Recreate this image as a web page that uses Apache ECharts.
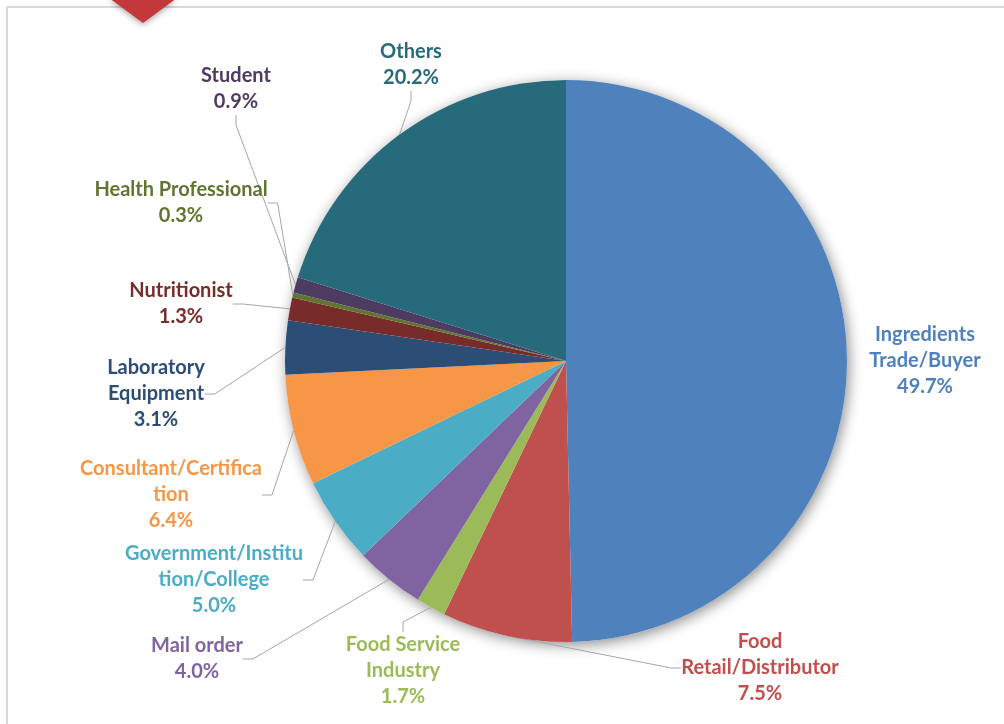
<!DOCTYPE html>
<html>
<head>
<meta charset="utf-8">
<script src="https://cdn.jsdelivr.net/npm/echarts@6/dist/echarts.min.js"></script>
<style>
html,body{margin:0;padding:0;background:#fff;}
#chart{width:1004px;height:724px;}
</style>
</head>
<body>
<div id="chart"></div>
<script>
// Categories (label text, with the original line breaks)
const categories = [
  'Ingredients\nTrade/Buyer',
  'Food\nRetail/Distributor',
  'Food Service\nIndustry',
  'Mail order',
  'Government/Institu\ntion/College',
  'Consultant/Certifica\ntion',
  'Laboratory\nEquipment',
  'Nutritionist',
  'Health Professional',
  'Student',
  'Others'
];
// Share values (%)
const shares = [49.7, 7.5, 1.7, 4.0, 5.0, 6.4, 3.1, 1.3, 0.3, 0.9, 20.2];
// Slice colours
const sliceColors = ['#4f81bd', '#c0504d', '#9bbb59', '#8064a2', '#4bacc6', '#f79646',
                     '#2c4d75', '#772c2a', '#5f7530', '#4d3b62', '#276a7c'];
// Label text centres (layout, not data)
const labelSpots = [
  [925, 361], [760, 668], [403, 671], [197, 659], [214, 580], [171, 495],
  [156, 394], [181, 304], [181, 203], [236, 89], [411, 65]
];
const noLeader = [0];

const chart = echarts.init(document.getElementById('chart'), null, {renderer: 'canvas'});

const pieData = categories.map((name, i) => ({
  name: name,
  value: shares[i],
  itemStyle: {color: sliceColors[i]},
  label: {color: sliceColors[i]},
  labelLine: {show: noLeader.indexOf(i) < 0}
}));

const option = {
  backgroundColor: '#ffffff',
  animation: false,
  graphic: [
    {
      type: 'rect', z: 0, silent: true,
      shape: {x: 7, y: 7, width: 1020, height: 740},
      style: {fill: 'none', stroke: '#d9d9d9', lineWidth: 2}
    },
    {
      type: 'polygon', z: 1, silent: true,
      shape: {points: [[109, -2], [177, -2], [143, 23]]},
      style: {fill: '#c3393a', shadowBlur: 6, shadowColor: 'rgba(0,0,0,0.35)', shadowOffsetY: 2}
    }
  ],
  series: [
    {
      type: 'pie',
      silent: true,
      z: 1,
      center: [566, 361],
      radius: 281,
      label: {show: false},
      labelLine: {show: false},
      itemStyle: {color: '#ffffff', shadowBlur: 14, shadowColor: 'rgba(0,0,0,0.45)', shadowOffsetX: 2, shadowOffsetY: 3},
      data: [{value: 1, name: ''}]
    },
    {
      type: 'pie',
      z: 2,
      center: [566, 361],
      radius: 281,
      startAngle: 90,
      clockwise: true,
      avoidLabelOverlap: false,
      itemStyle: {borderWidth: 0},
      label: {
        show: true,
        position: 'outside',
        fontFamily: 'Lato',
        fontWeight: 'bold',
        fontSize: 20,
        lineHeight: 26,
        align: 'center',
        formatter: p => p.name + '\n' + p.value.toFixed(1) + '%'
      },
      labelLine: {
        show: true,
        length: 10,
        length2: 10,
        lineStyle: {color: '#a6a6a6', width: 1}
      },
      labelLayout: function (params) {
        const s = labelSpots[params.dataIndex];
        return {x: s[0], y: s[1], align: 'center', verticalAlign: 'middle'};
      },
      emphasis: {disabled: true},
      data: pieData
    }
  ]
};
chart.setOption(option);
</script>
</body>
</html>
